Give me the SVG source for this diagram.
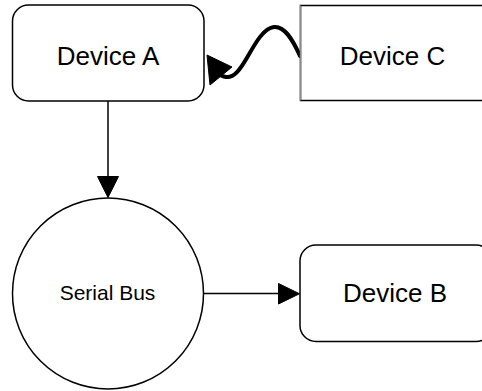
<svg xmlns="http://www.w3.org/2000/svg" width="482" height="391" viewBox="0 0 482 391">
  <defs>
    <style>
      .box { fill: #ffffff; stroke: #000000; stroke-width: 1.5; }
      .label { font-family: "Liberation Sans", Arial, sans-serif; fill: #000000; text-anchor: middle; }
      .big { font-size: 26px; }
      .small { font-size: 21px; }
      .edge { fill: none; stroke: #000000; stroke-width: 1.5; }
      .wavy { fill: none; stroke: #000000; stroke-width: 4; stroke-linecap: round; }
      .head { fill: #000000; stroke: #000000; stroke-width: 1; stroke-linejoin: round; }
    </style>
  </defs>
  <rect width="482" height="391" fill="#ffffff"/>

  <!-- connectors -->
  <g id="connectors">
    <!-- Device A to Serial Bus -->
    <line class="edge" x1="108" y1="101" x2="108" y2="178"/>
    <polygon class="head" points="97.5,176.5 118.5,176.5 108,197.5"/>
    <!-- Serial Bus to Device B -->
    <line class="edge" x1="204" y1="293.5" x2="280" y2="293.5"/>
    <polygon class="head" points="278.5,283.5 278.5,304 299.5,293.75"/>
    <!-- Device C to Device A (wavy link) -->
    <path class="wavy" d="M300,56 C292,38 284,26 274,27 C264,28 256,42 248,56 C240,70 234,78 226,77 C222,76.5 220,75 218,73"/>
    <polygon class="head" points="207,55 232,67 210,85"/>
  </g>

  <!-- Device A -->
  <g id="device-a">
    <rect class="box" x="12.5" y="5" width="191.5" height="96" rx="16" ry="16"/>
    <text class="label big" x="108" y="65">Device A</text>
  </g>

  <!-- Device C -->
  <g id="device-c">
    <rect class="box" x="300.5" y="5.5" width="192" height="95"/>
    <line x1="300.5" y1="5.5" x2="300.5" y2="100.5" stroke="#8a8a8a" stroke-width="1.5"/>
    <text class="label big" x="392.5" y="65">Device C</text>
  </g>

  <!-- Serial Bus -->
  <g id="serial-bus">
    <circle class="box" cx="108" cy="293.5" r="95.5"/>
    <text class="label small" x="107.5" y="300">Serial Bus</text>
  </g>

  <!-- Device B -->
  <g id="device-b">
    <rect class="box" x="300" y="245" width="192" height="96.5" rx="16" ry="16"/>
    <text class="label big" x="395" y="302">Device B</text>
  </g>
</svg>
